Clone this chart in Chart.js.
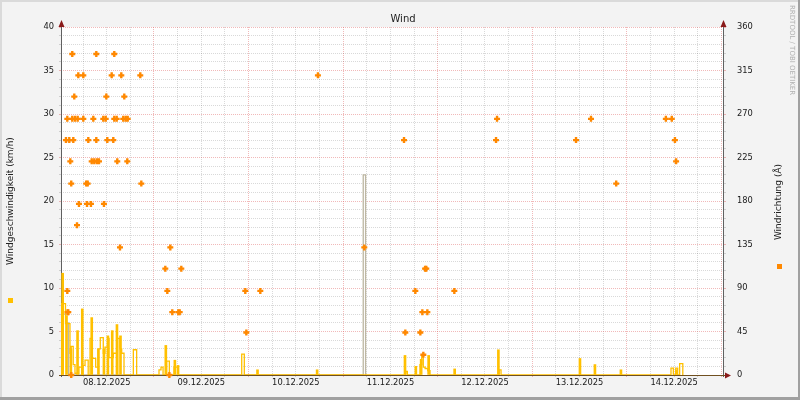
<!DOCTYPE html>
<html>
<head>
<meta charset="utf-8">
<script src="https://cdn.jsdelivr.net/npm/chart.js@4"></script>
<style>
  html, body { margin: 0; padding: 0; background: #f3f3f3; }
  canvas { display: block; }
</style>
</head>
<body>
<canvas id="windChart" width="800" height="400"></canvas>
<script>
// hours counted from 08.12.2025 00:00
const dateLabels = ["08.12.2025", "09.12.2025", "10.12.2025", "11.12.2025", "12.12.2025", "13.12.2025", "14.12.2025"];

// filled bars: average wind speed (km/h)
const avgHours = [0.82, 1.8, 2.9, 4.6, 5.8, 8.2, 9.9, 11.3, 12.3, 13.4, 14.6, 15.5,
  27.0, 29.3, 30.1, 50.27, 65.4, 87.7, 90.45, 91.8, 93.7, 100.3, 111.4, 132.1, 135.9, 142.5, 156.6];
const avgKmh = [11.7, 6.8, 3.0, 5.1, 7.6, 6.6, 3.0, 3.0, 4.5, 5.1, 5.8, 4.5,
  3.4, 1.7, 1.1, 0.6, 0.6, 2.25, 1.0, 1.8, 2.25, 0.7, 2.9, 1.9, 1.2, 0.6, 0.6];

// step outline: gusts (km/h)
const gustHours = [0.4, 0.57, 1.54, 2.68, 3.0, 3.5, 3.95, 4.96, 5.65, 6.0, 6.5, 7.3, 7.77, 8.34, 9.2, 9.86,
  10.37, 11.13, 11.56, 12.25, 12.6, 13.67, 14.54, 14.8, 15.37, 15.8, 16.39, 18.76, 19.6,
  25.27, 25.78, 26.3, 27.22, 27.9, 29.08, 30.17, 46.26, 46.92, 87.88, 88.3,
  91.5, 91.94, 92.34, 92.8, 93.47, 94.05, 111.6, 112.07, 155.2, 155.8, 156.4, 156.9, 157.4, 158.2];
const gustKmh = [0, 8.2, 5.9, 2.5, 3.3, 1.2, 0.2, 0.9, 0, 1.1, 1.7, 0, 4.2, 1.9, 0.9, 3.0,
  4.3, 2.5, 3.2, 4.2, 2.0, 2.5, 0, 4.2, 3.0, 2.5, 0, 2.9, 0,
  0.6, 0.9, 0, 1.6, 0, 0.9, 0, 2.4, 0, 0.4, 0,
  1.2, 2.3, 0.9, 0.75, 0.5, 0, 0.6, 0, 0.8, 0, 0.8, 0, 1.3, 0];

// grey outline: peak values
const peakHours = [0.4, 0.4, 1.6, 2.3, 77.1, 77.7];
const peakKmh = [0, 7.0, 6.0, 0, 23.0, 0];

// wind direction points (degrees, right axis)
const dirHours = [1.66, 2.0, 2.0, 2.05, 2.25, 2.5, 2.76, 3.0, 3.0, 3.26, 3.26, 3.52, 3.77, 3.95, 4.46, 4.63,
  4.79, 4.96, 6.06, 6.06, 6.8, 7.0, 7.17, 7.33, 8.0, 8.19, 8.6, 8.85, 9.36, 9.36, 9.53, 10.04,
  11.13, 11.3, 11.74, 11.9, 12.15, 13.26, 13.67, 13.92, 13.92, 14.53, 14.68, 15.37, 15.7, 16.2,
  16.46, 16.82, 17.22, 17.32, 20.52, 20.78, 26.87, 27.38, 27.9, 28.14, 28.64, 30.17, 30.52, 30.93,
  47.17, 47.43, 50.98, 65.6, 77.37, 87.45, 87.78, 90.32, 91.59, 92.1, 92.35, 92.8, 93.1, 93.37,
  100.22, 110.8, 111.06, 131.1, 134.9, 141.3, 153.9, 155.4, 156.2, 156.5];
const dirDeg = [243, 265, 87, 65, 65, 243, 221, 198, 0, 332, 265, 243, 288, 265, 155, 265,
  310, 177, 310, 265, 198, 177, 198, 243, 177, 221, 265, 221, 332, 243, 221, 221,
  265, 177, 265, 288, 243, 310, 243, 332, 265, 265, 221, 132, 310, 265,
  288, 265, 221, 265, 310, 198, 110, 87, 0, 132, 65, 65, 65, 110,
  87, 44, 87, 310, 132, 243, 44, 87, 44, 65, 21, 110, 110, 65,
  87, 243, 265, 243, 265, 198, 265, 265, 243, 221];

const xy = (xs, ys) => xs.map((x, i) => ({ x: x, y: ys[i] }));

const minorGrid = "rgba(0,0,0,0.15)";
const majorGrid = "rgba(220,80,80,0.4)";
const tickFont = { family: "DejaVu Sans", size: 8.3 };

const frame = {
  id: "frame",
  beforeDraw(chart) {
    const { ctx, chartArea: a } = chart;
    ctx.save();
    ctx.fillStyle = "#f3f3f3";
    ctx.fillRect(0, 0, 800, 400);
    ctx.fillStyle = "#ffffff";
    ctx.fillRect(a.left, a.top, a.right - a.left, a.bottom - a.top);
    ctx.restore();
  },
  beforeDatasetsDraw(chart) {
    const { ctx, chartArea: a } = chart;
    ctx.save();
    ctx.lineWidth = 1;
    ctx.strokeStyle = "#606060";
    ctx.beginPath();
    ctx.moveTo(a.left + 0.5, 22); ctx.lineTo(a.left + 0.5, a.bottom + 2);
    ctx.moveTo(a.right + 0.5, 22); ctx.lineTo(a.right + 0.5, a.bottom + 2);
    ctx.stroke();
    ctx.strokeStyle = "#705020";
    ctx.beginPath();
    ctx.moveTo(a.left - 2, a.bottom + 0.5); ctx.lineTo(a.right + 6, a.bottom + 0.5);
    ctx.stroke();
    ctx.fillStyle = "#8a1a1a";
    [a.left + 0.5, a.right + 0.5].forEach(x => {
      ctx.beginPath();
      ctx.moveTo(x, 20); ctx.lineTo(x - 3, 27); ctx.lineTo(x + 3, 27);
      ctx.closePath(); ctx.fill();
    });
    ctx.beginPath();
    ctx.moveTo(a.right + 8, a.bottom + 0.5);
    ctx.lineTo(a.right + 2, a.bottom - 2.5);
    ctx.lineTo(a.right + 2, a.bottom + 3.5);
    ctx.closePath(); ctx.fill();
    ctx.restore();
  },
  afterDraw(chart) {
    const { ctx } = chart;
    ctx.save();
    ctx.fillStyle = "#222";
    ctx.textAlign = "center";
    ctx.textBaseline = "middle";
    ctx.font = '10px "DejaVu Sans"';
    ctx.fillText("Wind", 403, 19);

    ctx.font = '9px "DejaVu Sans"';
    ctx.save();
    ctx.translate(11, 201);
    ctx.rotate(-Math.PI / 2);
    ctx.fillText("Windgeschwindigkeit (km/h)", 0, 0);
    ctx.restore();
    ctx.save();
    ctx.translate(779, 202);
    ctx.rotate(-Math.PI / 2);
    ctx.fillText("Windrichtung (Å)", 0, 0);
    ctx.restore();

    ctx.fillStyle = "#ffc000";
    ctx.fillRect(8, 298, 5, 5);
    ctx.fillStyle = "#ff8800";
    ctx.fillRect(777, 264, 5, 5);

    ctx.save();
    ctx.translate(792, 5);
    ctx.rotate(Math.PI / 2);
    ctx.textAlign = "left";
    ctx.fillStyle = "#b0b0b0";
    ctx.font = '7px "DejaVu Sans"';
    ctx.fillText("RRDTOOL / TOBI OETIKER", 0, 0);
    ctx.restore();

    // 3d border like rrdtool
    ctx.fillStyle = "#dadada";
    ctx.fillRect(0, 0, 800, 2);
    ctx.fillRect(0, 0, 2, 400);
    ctx.fillStyle = "#a0a0a0";
    ctx.fillRect(798, 0, 2, 400);
    ctx.fillRect(0, 397, 800, 3);
    ctx.restore();
  }
};

new Chart(document.getElementById("windChart"), {
  type: "bar",
  data: {
    datasets: [
      {
        type: "line",
        label: "Windrichtung",
        data: xy(dirHours, dirDeg),
        yAxisID: "y2",
        showLine: false,
        pointStyle: "cross",
        pointRadius: 3,
        pointBorderWidth: 2.4,
        pointBorderColor: "#ff8800",
        pointBackgroundColor: "#ff8800",
        clip: false,
        order: 0
      },
      {
        type: "line",
        label: "Boeen",
        data: xy(gustHours, gustKmh),
        yAxisID: "y",
        stepped: true,
        borderColor: "#ffc000",
        borderWidth: 1.3,
        pointRadius: 0,
        fill: false,
        order: 1
      },
      {
        label: "Windgeschwindigkeit",
        data: xy(avgHours, avgKmh),
        yAxisID: "y",
        backgroundColor: "#ffc000",
        borderWidth: 0,
        barThickness: 2,
        grouped: false,
        order: 2
      },
      {
        type: "line",
        label: "Spitze",
        data: xy(peakHours, peakKmh),
        yAxisID: "y",
        stepped: true,
        borderColor: "#bdb7a2",
        borderWidth: 1.3,
        pointRadius: 0,
        fill: false,
        order: 3
      }
    ]
  },
  options: {
    responsive: false,
    animation: false,
    devicePixelRatio: 1,
    layout: { padding: { top: 27, left: 0, right: 0, bottom: 0 } },
    plugins: { legend: { display: false }, tooltip: { enabled: false } },
    scales: {
      x: {
        type: "linear",
        offset: false,
        min: 0.4,
        max: 168.4,
        afterBuildTicks: s => {
          const t = [];
          for (let h = 6; h <= 168; h += 6) t.push({ value: h });
          s.ticks = t;
        },
        afterFit: s => { s.height = 25; },
        ticks: {
          autoSkip: false,
          maxRotation: 0,
          padding: 1,
          font: tickFont,
          color: "#1a1a1a",
          callback: v => (v % 24 === 12 ? dateLabels[(v - 12) / 24] : "")
        },
        grid: {
          offset: false,
          color: c => (c.tick && c.tick.value % 24 === 0 ? majorGrid : minorGrid),
          tickLength: 2
        },
        border: { display: false, dash: [1, 1] }
      },
      y: {
        position: "left",
        min: 0,
        max: 40,
        afterBuildTicks: s => {
          const t = [];
          for (let v = 0; v <= 40; v++) t.push({ value: v });
          s.ticks = t;
        },
        afterFit: s => { s.width = 61; },
        ticks: {
          autoSkip: false,
          padding: 5,
          font: tickFont,
          color: "#1a1a1a",
          callback: v => (v % 5 === 0 ? String(v) : "")
        },
        grid: {
          color: c => (c.tick && c.tick.value % 5 === 0 ? majorGrid : minorGrid),
          tickLength: 2
        },
        border: { display: false, dash: [1, 1] }
      },
      y2: {
        position: "right",
        min: 0,
        max: 360,
        afterBuildTicks: s => {
          const t = [];
          for (let v = 0; v <= 360; v += 9) t.push({ value: v });
          s.ticks = t;
        },
        afterFit: s => { s.width = 77; },
        ticks: {
          autoSkip: false,
          padding: 11,
          font: tickFont,
          color: "#1a1a1a",
          callback: v => (v % 45 === 0 ? String(v) : "")
        },
        grid: {
          drawOnChartArea: false,
          color: c => (c.tick && c.tick.value % 45 === 0 ? majorGrid : minorGrid),
          tickLength: 3
        },
        border: { display: false }
      }
    }
  },
  plugins: [frame]
});
</script>
</body>
</html>
